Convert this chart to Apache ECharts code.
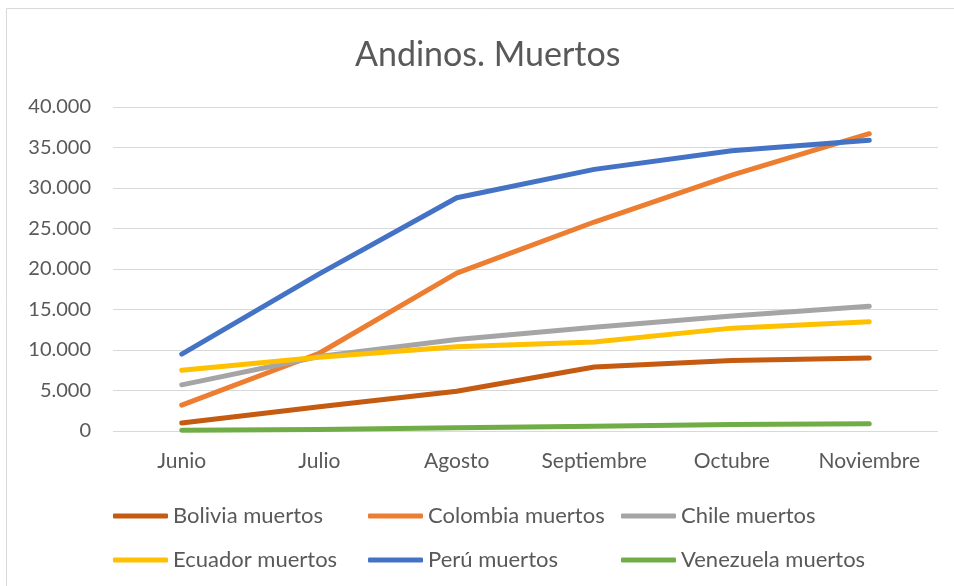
<!DOCTYPE html>
<html>
<head>
<meta charset="utf-8">
<script src="https://cdn.jsdelivr.net/npm/echarts@6/dist/echarts.min.js"></script>
<style>
html, body { margin: 0; padding: 0; background: #fff; }
#chart-box { width: 954px; height: 586px; }
</style>
</head>
<body>
<div id="chart-box"></div>
<script>
var months = ['Junio', 'Julio', 'Agosto', 'Septiembre', 'Octubre', 'Noviembre'];
var bolivia = [1000, 3000, 4900, 7900, 8700, 9000];
var colombia = [3200, 9600, 19500, 25800, 31600, 36700];
var chile = [5700, 9200, 11300, 12800, 14200, 15400];
var ecuador = [7500, 9100, 10400, 11000, 12700, 13500];
var peru = [9500, 19400, 28800, 32300, 34600, 35900];
var venezuela = [100, 200, 400, 600, 800, 900];

var font = 'Lato';
var grey = '#595959';

function fmt(v) {
    return String(v).replace(/\B(?=(\d{3})+(?!\d))/g, '.');
}

function line(name, data, color) {
    return {
        name: name,
        type: 'line',
        data: data,
        showSymbol: false,
        symbol: 'none',
        lineStyle: { color: color, width: 5, cap: 'round', join: 'round' },
        itemStyle: { color: color }
    };
}

// one legend per entry so the columns line up like the original
function legendItem(name, left, top) {
    return {
        data: [name],
        left: left,
        top: top,
        padding: 0,
        icon: 'roundRect',
        itemWidth: 55,
        itemHeight: 5,
        textStyle: { color: grey, fontSize: 22, fontFamily: font }
    };
}

var option = {
    animation: false,
    title: {
        text: 'Andinos. Muertos',
        left: 350,
        top: 33,
        textStyle: { color: grey, fontSize: 34, fontWeight: 'normal', fontFamily: font }
    },
    graphic: [{
        type: 'rect',
        shape: { x: 6.5, y: 8.5, width: 1000, height: 1000 },
        style: { fill: 'none', stroke: '#d9d9d9', lineWidth: 1 }
    }],
    legend: [
        legendItem('Bolivia muertos', 113, 505),
        legendItem('Colombia muertos', 368, 505),
        legendItem('Chile muertos', 621, 505),
        legendItem('Ecuador muertos', 113, 549),
        legendItem('Perú muertos', 368, 549),
        legendItem('Venezuela muertos', 621, 549)
    ],
    grid: { left: 113, right: 16, top: 107, bottom: 155, containLabel: false },
    xAxis: {
        type: 'category',
        data: months,
        boundaryGap: true,
        axisLine: { show: false },
        axisTick: { show: false },
        axisLabel: { color: grey, fontSize: 21, fontFamily: font, margin: 20 }
    },
    yAxis: {
        type: 'value',
        min: 0,
        max: 40000,
        interval: 5000,
        axisLine: { show: false },
        axisTick: { show: false },
        splitLine: { lineStyle: { color: '#d9d9d9', width: 1 } },
        axisLabel: { color: grey, fontSize: 20, fontFamily: font, margin: 22, formatter: fmt }
    },
    series: [
        line('Bolivia muertos', bolivia, '#c55a11'),
        line('Colombia muertos', colombia, '#ed7d31'),
        line('Chile muertos', chile, '#a5a5a5'),
        line('Ecuador muertos', ecuador, '#ffc000'),
        line('Perú muertos', peru, '#4472c4'),
        line('Venezuela muertos', venezuela, '#70ad47')
    ]
};

var myChart = echarts.init(document.getElementById('chart-box'));
myChart.setOption(option);
</script>
</body>
</html>
